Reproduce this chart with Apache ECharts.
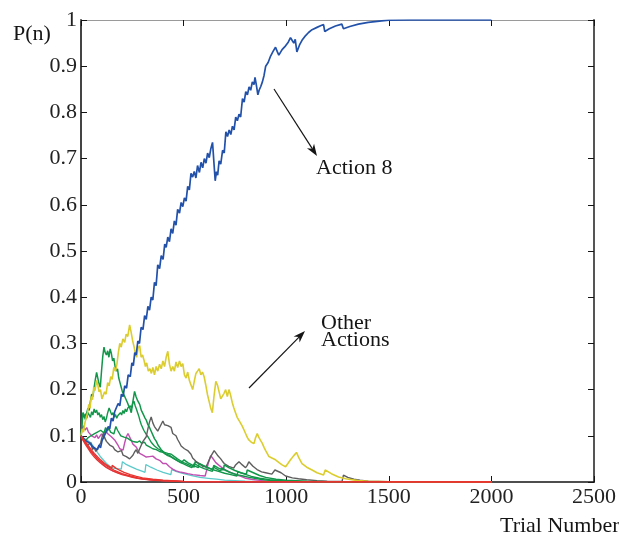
<!DOCTYPE html>
<html>
<head>
<meta charset="utf-8">
<script src="https://cdn.jsdelivr.net/npm/echarts@6/dist/echarts.min.js"></script>
<style>
  html, body { margin: 0; padding: 0; background: #fff; }
  #chart { width: 619px; height: 533px; }
</style>
</head>
<body>
<div id="chart"></div>
<script>
// Action-probability traces: [trial, P(n)]
const xTicks = [0, 500, 1000, 1500, 2000, 2500];
const yTicks = [0, 0.1, 0.2, 0.3, 0.4, 0.5, 0.6, 0.7, 0.8, 0.9, 1];

const action8 = [
  [0,.100],[20,.090],[40,.085],[60,.075],[80,.070],[88,.080],[95,.074],[103,.090],[110,.086],[118,.104],
  [125,.100],[133,.120],[140,.115],[148,.138],[156,.132],[164,.152],[173,.148],[181,.170],[189,.165],[197,.190],
  [205,.185],[213,.208],[222,.203],[230,.232],[240,.228],[248,.258],[255,.252],[262,.280],[269,.275],[277,.305],
  [285,.300],[293,.335],[302,.330],[310,.360],[318,.352],[326,.380],[334,.372],[342,.400],[350,.394],[358,.432],
  [366,.425],[374,.470],[383,.462],[391,.490],[400,.482],[408,.515],[415,.508],[423,.530],[431,.520],[439,.548],
  [447,.538],[455,.565],[463,.556],[471,.590],[480,.582],[488,.605],[496,.596],[504,.615],[512,.608],[520,.640],
  [528,.632],[536,.668],[544,.660],[552,.672],[560,.658],[568,.685],[577,.670],[585,.692],[593,.680],[601,.700],
  [609,.690],[617,.712],[625,.702],[633,.722],[641,.735],[648,.690],[654,.652],[660,.672],[666,.664],[673,.695],
  [681,.688],[690,.718],[698,.712],[706,.758],[714,.748],[722,.762],[730,.752],[738,.770],[746,.762],[754,.790],
  [762,.782],[770,.796],[778,.790],[787,.830],[795,.822],[803,.845],[811,.838],[819,.855],[827,.848],[835,.866],
  [843,.860],[848,.876],[855,.858],[862,.838],[868,.848],[876,.856],[884,.866],[892,.880],[900,.900],[912,.908],
  [924,.922],[936,.932],[948,.941],[956,.932],[964,.924],[980,.936],[997,.944],[1010,.952],[1021,.962],[1030,.955],
  [1037,.950],[1044,.958],[1052,.931],[1065,.946],[1077,.956],[1090,.964],[1109,.973],[1126,.979],[1150,.984],
  [1170,.988],[1182,.990],[1188,.975],[1210,.981],[1240,.987],[1271,.991],[1279,.981],[1310,.986],[1352,.991],
  [1400,.995],[1465,.998],[1500,.9995],[1600,1],[2000,1]
];

const yellowAction = [
  [0,.100],[6,.115],[12,.108],[19,.128],[26,.140],[32,.150],[38,.168],[44,.160],[50,.185],[56,.178],
  [62,.205],[68,.198],[76,.220],[82,.210],[88,.195],[95,.200],[102,.180],[108,.176],[115,.195],[122,.190],
  [130,.215],[137,.208],[145,.228],[152,.222],[160,.248],[168,.240],[175,.255],[182,.280],[189,.300],[196,.292],
  [204,.310],[213,.302],[220,.320],[228,.315],[237,.340],[244,.325],[252,.305],[260,.290],[266,.275],[271,.270],
  [278,.290],[286,.295],[293,.270],[300,.275],[308,.262],[314,.250],[320,.258],[328,.240],[336,.245],[343,.235],
  [350,.248],[358,.232],[366,.250],[374,.240],[383,.255],[391,.245],[399,.262],[407,.250],[415,.270],[423,.283],
  [431,.255],[439,.240],[447,.250],[455,.240],[463,.260],[471,.248],[480,.262],[488,.250],[496,.256],[504,.232],
  [512,.225],[520,.238],[528,.220],[536,.210],[544,.200],[552,.218],[560,.235],[568,.240],[576,.245],[584,.232],
  [592,.238],[600,.228],[608,.210],[616,.190],[624,.175],[632,.160],[640,.150],[648,.185],[657,.218],[665,.210],
  [673,.195],[681,.180],[689,.178],[697,.192],[705,.200],[713,.185],[721,.200],[729,.188],[737,.172],[745,.160],
  [753,.150],[761,.140],[769,.138],[777,.128],[787,.120],[795,.112],[803,.104],[811,.096],[818,.091],[830,.086],
  [843,.083],[850,.095],[859,.105],[866,.097],[875,.090],[883,.084],[892,.075],[900,.068],[916,.055],[930,.052],
  [948,.048],[965,.042],[980,.037],[997,.033],[1005,.038],[1021,.048],[1035,.056],[1050,.064],[1062,.052],[1077,.040],
  [1100,.032],[1126,.026],[1150,.020],[1182,.015],[1190,.026],[1220,.018],[1255,.011],[1290,.007],[1350,.003],
  [1400,.0015],[1500,.0005],[2000,0]
];

const greenA = [
  [0,.100],[5,.125],[10,.150],[16,.142],[22,.135],[28,.150],[34,.160],[40,.155],[46,.175],[52,.190],
  [58,.185],[64,.205],[70,.222],[76,.237],[82,.225],[88,.212],[94,.205],[100,.240],[106,.272],[112,.292],
  [118,.280],[124,.275],[130,.284],[136,.270],[142,.288],[148,.278],[154,.262],[160,.268],[166,.250],[172,.240],
  [178,.245],[184,.225],[190,.215],[196,.205],[202,.195],[208,.190],[214,.188],[220,.178],[226,.172],[232,.165],
  [238,.160],[245,.150],[252,.172],[261,.196],[268,.185],[276,.176],[286,.168],[294,.155],[302,.148],[310,.140],
  [318,.134],[326,.124],[334,.118],[342,.110],[350,.106],[358,.094],[367,.088],[375,.080],[383,.076],[391,.070],
  [399,.066],[407,.062],[415,.058],[423,.057],[431,.055],[440,.054],[447,.052],[455,.050],[463,.048],[471,.046],
  [480,.044],[490,.042],[498,.040],[502,.048],[520,.042],[545,.036],[572,.031],[576,.040],[600,.035],[630,.029],
  [643,.027],[647,.036],[670,.030],[694,.026],[698,.037],[720,.031],[750,.025],[780,.020],[806,.017],[810,.026],
  [840,.020],[870,.014],[900,.010],[950,.006],[1000,.004],[1100,.0015],[1200,.0005],[2000,0]
];

const greenB = [
  [0,.100],[5,.130],[10,.150],[16,.140],[22,.148],[28,.138],[34,.150],[40,.149],[46,.140],[52,.152],
  [58,.145],[64,.158],[70,.150],[76,.156],[82,.145],[88,.150],[94,.140],[100,.146],[106,.135],[112,.142],
  [118,.130],[124,.138],[130,.150],[137,.160],[144,.152],[150,.145],[156,.150],[162,.140],[168,.146],[174,.138],
  [180,.144],[186,.141],[192,.150],[198,.145],[204,.155],[210,.148],[216,.158],[222,.152],[228,.160],[234,.156],
  [240,.165],[246,.160],[252,.170],[258,.175],[264,.165],[270,.158],[276,.150],[282,.142],[288,.132],[294,.124],
  [300,.118],[306,.112],[312,.108],[318,.103],[326,.098],[334,.094],[342,.086],[350,.082],[358,.078],[367,.076],
  [375,.072],[383,.070],[391,.068],[399,.066],[407,.064],[415,.066],[423,.062],[431,.060],[440,.060],[455,.055],
  [470,.050],[485,.046],[500,.042],[515,.039],[530,.036],[552,.032],[556,.044],[580,.038],[610,.032],[640,.027],
  [670,.023],[700,.019],[730,.016],[760,.013],[764,.022],[790,.018],[830,.012],[870,.008],[920,.005],[1000,.002],
  [1100,.0008],[2000,0]
];

const greenC = [
  [0,.100],[8,.094],[16,.098],[24,.090],[32,.095],[40,.091],[48,.100],[56,.096],[64,.104],[72,.100],
  [80,.108],[88,.104],[96,.112],[105,.113],[112,.106],[120,.118],[128,.110],[136,.116],[144,.108],[152,.112],
  [160,.104],[170,.120],[178,.112],[186,.108],[194,.100],[202,.104],[210,.097],[218,.100],[226,.095],[234,.098],
  [242,.090],[250,.094],[258,.087],[266,.090],[275,.086],[286,.089],[294,.084],[302,.082],[310,.086],[318,.080],
  [326,.082],[334,.076],[342,.078],[350,.072],[358,.075],[367,.070],[375,.068],[383,.066],[391,.070],[399,.064],
  [407,.062],[415,.060],[423,.062],[431,.058],[440,.055],[455,.050],[470,.046],[485,.042],[500,.039],[520,.035],
  [540,.031],[548,.029],[552,.040],[575,.034],[600,.029],[625,.025],[640,.023],[645,.032],[670,.026],[681,.024],
  [686,.030],[700,.026],[730,.020],[760,.016],[790,.013],[820,.010],[860,.007],[900,.004],[1000,.0015],
  [1100,.0005],[2000,0]
];

const grayAction = [
  [0,.100],[8,.095],[16,.088],[24,.092],[32,.080],[40,.078],[48,.085],[56,.070],[64,.075],[72,.066],
  [80,.072],[88,.068],[96,.085],[104,.100],[110,.106],[116,.095],[124,.088],[132,.092],[140,.080],[148,.084],
  [156,.076],[164,.070],[172,.074],[180,.065],[189,.062],[197,.068],[205,.058],[213,.062],[221,.055],[229,.058],
  [237,.050],[245,.048],[253,.058],[261,.065],[269,.070],[277,.062],[286,.072],[294,.080],[302,.088],[310,.084],
  [318,.098],[326,.115],[334,.130],[342,.141],[350,.128],[358,.120],[366,.115],[374,.110],[383,.114],[391,.125],
  [399,.132],[407,.124],[415,.128],[423,.122],[431,.124],[439,.118],[447,.105],[455,.108],[463,.100],[471,.092],
  [480,.085],[488,.078],[496,.076],[504,.072],[512,.074],[520,.068],[528,.069],[536,.060],[544,.052],[552,.048],
  [560,.045],[568,.042],[576,.040],[585,.036],[593,.034],[601,.033],[609,.033],[617,.040],[625,.048],[633,.056],
  [641,.062],[649,.068],[657,.063],[665,.058],[673,.054],[681,.050],[689,.045],[698,.040],[720,.034],[744,.030],
  [752,.036],[770,.044],[786,.037],[802,.031],[810,.036],[818,.044],[838,.034],[858,.027],[880,.022],[900,.020],
  [930,.017],[945,.026],[952,.030],[975,.020],[997,.013],[1030,.009],[1060,.007],[1100,.005],[1150,.003],
  [1200,.002],[1272,.001],[1279,.015],[1300,.010],[1330,.006],[1360,.004],[1400,.002],[1500,.0005],[2000,0]
];

const magentaAction = [
  [0,.100],[6,.115],[12,.122],[20,.112],[28,.118],[36,.108],[44,.106],[52,.100],[60,.104],[68,.096],
  [76,.102],[84,.094],[92,.098],[100,.104],[108,.098],[116,.112],[124,.113],[132,.104],[140,.105],[148,.098],
  [156,.094],[164,.091],[172,.088],[180,.080],[189,.072],[197,.070],[205,.069],[213,.085],[221,.098],[229,.105],
  [237,.102],[245,.090],[253,.082],[261,.078],[270,.075],[278,.068],[286,.062],[294,.064],[302,.058],[310,.056],
  [318,.054],[326,.051],[334,.055],[342,.058],[350,.056],[358,.052],[366,.050],[375,.048],[383,.047],[391,.044],
  [399,.040],[407,.038],[415,.040],[423,.036],[431,.033],[439,.030],[447,.028],[455,.026],[463,.024],[471,.023],
  [480,.022],[500,.020],[520,.018],[545,.016],[580,.014],[605,.013],[612,.025],[620,.040],[632,.057],[641,.052],
  [657,.042],[673,.036],[690,.030],[706,.026],[722,.022],[738,.019],[760,.015],[780,.012],[803,.008],[830,.006],
  [860,.004],[900,.002],[1000,.0005],[2000,0]
];

const magentaFast = [
  [0,.100],[12,.090],[24,.084],[40,.072],[56,.063],[73,.055],[90,.046],[105,.039],[121,.033],[140,.028],
  [155,.024],[170,.022],[200,.017],[240,.012],[280,.008],[330,.005],[400,.003],[500,.001],[2000,0]
];

const cyanAction = [
  [0,.100],[8,.098],[16,.094],[24,.098],[32,.090],[40,.092],[48,.085],[56,.080],[64,.076],[72,.070],
  [80,.064],[88,.060],[96,.054],[104,.050],[112,.046],[124,.040],[140,.034],[157,.030],[175,.029],[196,.028],
  [202,.044],[220,.038],[240,.034],[270,.028],[300,.023],[312,.021],[316,.038],[340,.032],[370,.026],[400,.021],
  [438,.016],[442,.027],[470,.022],[500,.018],[540,.014],[580,.010],[620,.008],[660,.006],[700,.004],[800,.002],
  [1000,.0005],[2000,0]
];

const redA = [
  [0,.100],[10,.092],[22,.084],[35,.075],[50,.066],[65,.058],[80,.051],[95,.045],[110,.040],[125,.035],
  [140,.031],[160,.026],[180,.022],[200,.018],[225,.015],[250,.012],[275,.009],[300,.007],[340,.005],[400,.003],
  [500,.0012],[600,.0005],[2000,0]
];
const redB = [
  [0,.100],[10,.090],[22,.081],[35,.072],[50,.062],[65,.054],[80,.047],[95,.041],[110,.036],[125,.031],
  [140,.027],[160,.023],[180,.019],[200,.016],[225,.013],[250,.010],[275,.008],[300,.006],[340,.004],[400,.0025],
  [500,.001],[2000,0]
];
const redC = [
  [0,.100],[10,.094],[22,.087],[35,.079],[50,.070],[65,.062],[80,.055],[95,.048],[110,.042],[125,.037],
  [140,.033],[150,.030],[152,.036],[170,.030],[190,.025],[210,.021],[240,.016],[270,.012],[300,.009],[350,.006],
  [400,.004],[500,.0015],[600,.0006],[2000,0]
];

// Drawing order: later entries are painted on top
const seriesList = [
  { data: magentaFast, color: '#c853b4', width: 1.3 },
  { data: cyanAction, color: '#5ccaca', width: 1.3 },
  { data: magentaAction, color: '#c24fb2', width: 1.4 },
  { data: greenC, color: '#12964a', width: 1.4 },
  { data: greenB, color: '#12964a', width: 1.4 },
  { data: grayAction, color: '#5e5e5e', width: 1.4 },
  { data: greenA, color: '#12964a', width: 1.5 },
  { data: yellowAction, color: '#dccd2e', width: 1.6 },
  { data: action8, color: '#2251aa', width: 1.7 },
  { data: redA, color: '#e8342f', width: 1.3 },
  { data: redB, color: '#e8342f', width: 1.3 },
  { data: redC, color: '#e8342f', width: 1.3 }
];

const serif = '"Liberation Serif", "DejaVu Serif", serif';
const ink = '#151515';

// Straight arrow with a filled, notched head pointing at (x2, y2)
function arrow(x1, y1, x2, y2) {
  const dx = x2 - x1, dy = y2 - y1, L = Math.hypot(dx, dy);
  const ux = dx / L, uy = dy / L, px = -uy, py = ux;
  const len = 12, hw = 4.2, notch = 8.5;
  const bx = x2 - ux * len, by = y2 - uy * len;
  const nx = x2 - ux * notch, ny = y2 - uy * notch;
  return [
    { type: 'line', shape: { x1: x1, y1: y1, x2: nx, y2: ny }, style: { stroke: ink, lineWidth: 1.2 } },
    { type: 'polygon', shape: { points: [[x2, y2], [bx + px * hw, by + py * hw], [nx, ny], [bx - px * hw, by - py * hw]] },
      style: { fill: ink } }
  ];
}

function textItem(str, x, y) {
  return { type: 'text', left: x, top: y,
    style: { text: str, font: '22px ' + serif, fill: ink } };
}

const chart = echarts.init(document.getElementById('chart'), null, { renderer: 'canvas' });

const axisBase = {
  type: 'value',
  splitLine: { show: false },
  axisTick: { show: true, inside: true, length: 6, lineStyle: { color: ink, width: 1 } }
};
const plainNumber = v => String(Math.round(v * 10) / 10);

chart.setOption({
  animation: false,
  backgroundColor: '#fff',
  grid: { left: 81, right: 22, top: 20, bottom: 51 },
  xAxis: [
    Object.assign({}, axisBase, {
      position: 'bottom', min: xTicks[0], max: xTicks[xTicks.length - 1], interval: 500,
      axisLine: { show: true, onZero: false, lineStyle: { color: ink, width: 1.5 } },
      axisLabel: { fontFamily: serif, fontSize: 22, color: '#222', margin: 4, formatter: plainNumber }
    }),
    Object.assign({}, axisBase, {
      position: 'top', min: xTicks[0], max: xTicks[xTicks.length - 1], interval: 500,
      axisLine: { show: true, onZero: false, lineStyle: { color: '#9a9a9a', width: 1 } },
      axisLabel: { show: false }
    })
  ],
  yAxis: [
    Object.assign({}, axisBase, {
      position: 'left', min: yTicks[0], max: yTicks[yTicks.length - 1], interval: 0.1,
      axisLine: { show: true, onZero: false, lineStyle: { color: '#444', width: 2 } },
      axisLabel: { fontFamily: serif, fontSize: 22, color: '#222', margin: 4, formatter: plainNumber }
    }),
    Object.assign({}, axisBase, {
      position: 'right', min: yTicks[0], max: yTicks[yTicks.length - 1], interval: 0.1,
      axisLine: { show: true, onZero: false, lineStyle: { color: '#555', width: 2 } },
      axisLabel: { show: false }
    })
  ],
  series: seriesList.map(s => ({
    type: 'line',
    data: s.data,
    xAxisIndex: 0, yAxisIndex: 0,
    showSymbol: false, symbol: 'none',
    lineStyle: { color: s.color, width: s.width },
    itemStyle: { color: s.color },
    silent: true
  })),
  graphic: [
    textItem('P(n)', 13, 23),
    textItem('Action 8', 316, 157),
    textItem('Other', 321, 312),
    textItem('Actions', 321, 329),
    textItem('Trial Number', 500, 515)
  ].concat(arrow(274, 89, 317, 156), arrow(249, 388, 305, 331))
});
</script>
</body>
</html>
